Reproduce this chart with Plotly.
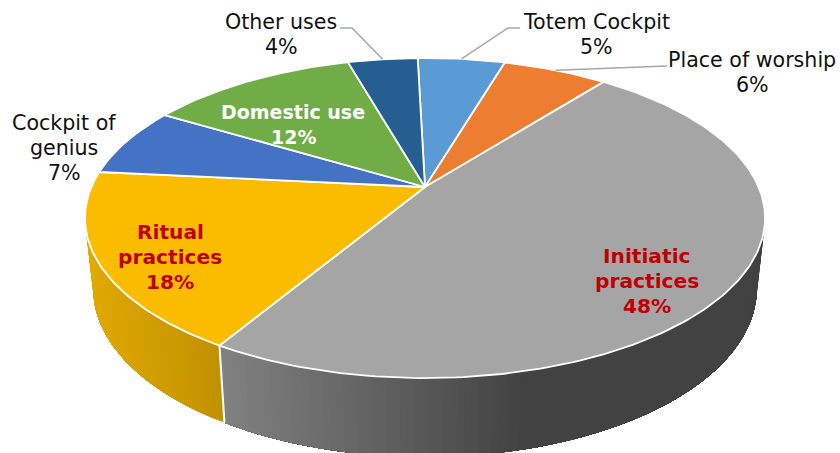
import numpy as np
import plotly.graph_objects as go

# Pie contents, clockwise from twelve o'clock
categories = ["Totem Cockpit", "Place of worship", "Initiatic practices", "Ritual practices",
              "Cockpit of genius", "Domestic use", "Other uses"]
shares = [5, 6, 48, 18, 7, 12, 4]
label_lines = [["Totem Cockpit"], ["Place of worship"], ["Initiatic", "practices"], ["Ritual", "practices"],
               ["Cockpit of", "genius"], ["Domestic use"], ["Other uses"]]
top_colors = ["#5B9BD5", "#ED7D31", "#A5A5A5", "#FBBC00", "#4472C4", "#70AD47", "#255E91"]

# Label centres and styling
label_centres = [(596, 34), (752, 72.5), (647, 280.5), (170, 257), (64, 148), (293, 124), (281, 34)]
label_colors = ["#111111", "#111111", "#C00000", "#C00000", "#111111", "#FFFFFF", "#111111"]
label_bold = [False, False, True, True, False, True, False]
label_sizes = [20.6, 20.6, 20.2, 20.2, 20.6, 19, 20.6]
LINE_STEP = 25

# Leader lines: slice index and the elbow points that follow the rim anchor
leaders = {0: [(508, 28), (520, 28)], 1: [(667, 66)], 6: [(352, 28), (340, 28)]}

# Wall shading, left to right, for the two slices that face the viewer
wall_ramps = {2: ((229, (128, 128, 128)), (530, (66, 66, 66))),
              3: ((90, (224, 169, 0)), (228, (191, 144, 0)))}

ROTATION = -1.5
TOP = dict(cx=425, cy=187, a=333.6, b=154, k=0.194)
BOTTOM = dict(cx=425, cy=256, a=325.5, b=162, k=0.194)


def project(face, theta):
    """Perspective view of a point on the pie's rim; theta in degrees clockwise from the back."""
    t = np.radians(np.asarray(theta, dtype=float) + ROTATION)
    w = 1 + face["k"] * np.cos(t)
    return face["cx"] + face["a"] * np.sin(t) / w, face["cy"] - face["b"] * np.cos(t) / w


edges = np.concatenate([[0], np.cumsum(shares)]) * 3.6
fig = go.Figure()


def add_poly(xs, ys, fill, line_color, width):
    fig.add_trace(go.Scatter(x=xs, y=ys, mode="lines", fill="toself", fillcolor=fill,
                             line=dict(color=line_color, width=width), hoverinfo="skip"))


# Outer wall, painted as overlapping strips from the slice's far end, so the shading
# changes smoothly without seams between neighbours
for i, ramp in wall_ramps.items():
    start = max(edges[i], 70)
    stop = edges[i + 1]
    thetas = np.arange(start, stop, 1.0)
    for a0 in thetas:
        arc = np.linspace(a0, stop, 2 + int((stop - a0) / 2))
        tx, ty = project(TOP, arc)
        bx, by = project(BOTTOM, arc)
        frac = np.clip((tx[0] - ramp[0][0]) / (ramp[1][0] - ramp[0][0]), 0, 1)
        rgb = [round(c0 + (c1 - c0) * frac) for c0, c1 in zip(ramp[0][1], ramp[1][1])]
        col = f"rgb({rgb[0]},{rgb[1]},{rgb[2]})"
        add_poly(list(tx) + list(bx[::-1]) + [tx[0]], list(ty) + list(by[::-1]) + [ty[0]], col, "rgba(0,0,0,0)", 0)

# White seam between the two visible wall sections
sx0, sy0 = project(TOP, edges[3])
sx1, sy1 = project(BOTTOM, edges[3])
fig.add_trace(go.Scatter(x=[sx0, sx1], y=[sy0, sy1], mode="lines",
                         line=dict(color="white", width=2), hoverinfo="skip"))

# Top face wedges
for i, color in enumerate(top_colors):
    arc = np.linspace(edges[i], edges[i + 1], max(int(shares[i] * 3.6), 8) + 1)
    ax, ay = project(TOP, arc)
    xs = [TOP["cx"]] + list(ax) + [TOP["cx"]]
    ys = [TOP["cy"]] + list(ay) + [TOP["cy"]]
    add_poly(xs, ys, color, "white", 1.8)

# Leader lines from the middle of each slice's rim
for i, elbow in leaders.items():
    ax, ay = project(TOP, (edges[i] + edges[i + 1]) / 2)
    fig.add_trace(go.Scatter(x=[float(ax)] + [p[0] for p in elbow], y=[float(ay)] + [p[1] for p in elbow],
                             mode="lines", line=dict(color="#A6A6A6", width=1.5), hoverinfo="skip"))

# Category and percentage labels, one annotation per text line for even spacing
for i, lines in enumerate(label_lines):
    rows = lines + [f"{shares[i]}%"]
    for j, row in enumerate(rows):
        text = f"<b>{row}</b>" if label_bold[i] else row
        fig.add_annotation(x=label_centres[i][0],
                           y=label_centres[i][1] + LINE_STEP * (j - (len(rows) - 1) / 2),
                           text=text, showarrow=False, xanchor="center", yanchor="middle",
                           font=dict(family="DejaVu Sans", size=label_sizes[i], color=label_colors[i]))

fig.update_layout(
    width=840, height=453, margin=dict(l=0, r=0, t=0, b=0),
    paper_bgcolor="white", plot_bgcolor="white", showlegend=False,
    xaxis=dict(range=[0, 840], visible=False, fixedrange=True),
    yaxis=dict(range=[453, 0], visible=False, fixedrange=True),
)
fig.write_html("out.html", config=dict(displayModeBar=False))
